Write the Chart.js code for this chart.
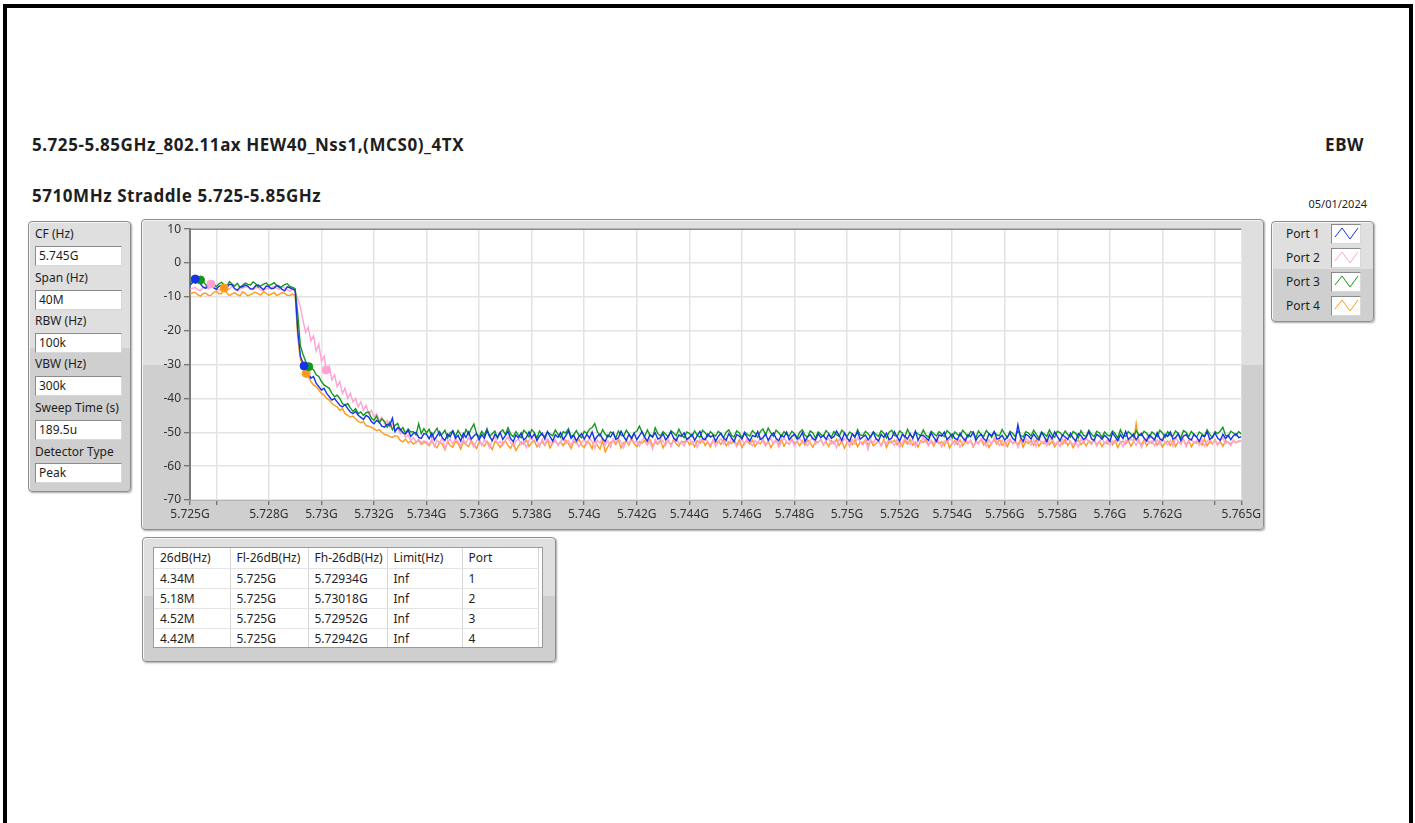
<!DOCTYPE html>
<html>
<head>
<meta charset="utf-8">
<title>EBW</title>
<script src="https://cdn.jsdelivr.net/npm/chart.js@4.4.1/dist/chart.umd.min.js"></script>
<style>
html, body { margin: 0; padding: 0; background: #fff; }
body { width: 1415px; height: 823px; position: relative; overflow: hidden; font-family: "Noto Sans", sans-serif; color: #1e1e1e; }
.frame { position: absolute; left: 3px; top: 4px; width: 1410px; height: 900px; border: 4px solid #000; border-bottom: none; box-sizing: border-box; }
.title { position: absolute; font-weight: bold; font-size: 17px; letter-spacing: 0.55px; line-height: 20px; white-space: nowrap; }
.date { position: absolute; right: 48px; top: 197px; font-size: 11px; line-height: 14px; }
.panel { position: absolute; box-sizing: border-box; border: 1px solid #8e8e8e; border-radius: 4px;
  background: linear-gradient(#dfdfdf 0%, #dfdfdf 47%, #cfcfcf 47%, #cfcfcf 100%);
  box-shadow: 1px 1px 2px rgba(0,0,0,0.35), inset 1px 1px 0 #f5f5f5; }
.plabel { position: absolute; left: 6px; font-size: 12px; line-height: 16px; white-space: nowrap; }
.pbox { position: absolute; left: 6px; width: 87px; height: 20px; box-sizing: border-box; background: #fff;
  border: 1px solid #8a8a8a; border-right-color: #d8d8d8; border-bottom-color: #d8d8d8;
  font-size: 12px; line-height: 18px; padding-left: 3px; }
.lrow { position: absolute; left: 14px; font-size: 12px; line-height: 16px; }
.licon { position: absolute; left: 59px; width: 30px; height: 20px; box-sizing: border-box; background: #fff;
  border: 1px solid #8a8a8a; border-right-color: #d8d8d8; border-bottom-color: #d8d8d8; }
.tbl { position: absolute; left: 10px; top: 9px; width: 390px; height: 101px; background: #fff; overflow: hidden;
  border: 1px solid #9a9a9a; box-sizing: border-box; }
table { border-collapse: collapse; font-size: 12px; table-layout: fixed; }
td { height: 19px; padding: 0 0 0 6px; border-right: 1px solid #d6d6d6; border-bottom: 1px solid #e4e4e4; white-space: nowrap; line-height: 18px; }
tr.head td { height: 20px; }
#chartBox { position: absolute; left: 141px; top: 219px; width: 1122px; height: 310px; }
</style>
</head>
<body>
<div class="frame"></div>
<div class="title" style="left:32px; top:135px;">5.725-5.85GHz_802.11ax HEW40_Nss1,(MCS0)_4TX</div>
<div class="title" style="right:51px; top:135px;">EBW</div>
<div class="title" style="left:32px; top:186px;">5710MHz Straddle 5.725-5.85GHz</div>
<div class="date">05/01/2024</div>

<div class="panel" id="params" style="left:28px; top:221px; width:103px; height:271px;"></div>
<div class="panel" style="left:141px; top:219px; width:1123px; height:311px;"></div>
<div id="chartBox"><canvas id="myChart" width="1122" height="310"></canvas></div>
<div class="panel" id="legend" style="left:1271px; top:221px; width:103px; height:101px;"></div>
<div class="panel" style="left:142px; top:537px; width:414px; height:125px;">
  <div class="tbl"><table id="results"></table></div>
</div>

<script>
// sweep settings shown in the left box
var paramLabels = ["CF (Hz)", "Span (Hz)", "RBW (Hz)", "VBW (Hz)", "Sweep Time (s)", "Detector Type"];
var paramValues = ["5.745G", "40M", "100k", "300k", "189.5u", "Peak"];

var portNames = ["Port 1", "Port 2", "Port 3", "Port 4"];
var portColors = ["#1434e6", "#ffa2d4", "#13991a", "#ff9a18"];

// trace points start at 5.725 GHz, one every 0.1 MHz (401 points)
var freqStart = 5.725;
var freqStep = 0.0001;

var port1Levels = [
  // in band
  -6.5,-5.8,-4.7,-5.6,-6.2,-7.1,-7.5,-6.4,-6.0,-7.3,
  -7.8,-6.9,-6.6,-7.5,-7.2,-6.3,-6.4,-7.6,-8.0,-7.1,
  -7.0,-6.5,-6.8,-7.7,-7.6,-6.7,-6.5,-7.2,-7.9,-6.8,
  -7.0,-7.6,-7.4,-6.6,-6.9,-7.8,-8.2,-7.0,-7.3,-7.7,
  -8.0,
  // roll-off
  -20.0,-27.5,-29.5,-32.0,-32.5,-34.0,-33.5,-35.5,-36.5,-37.5,
  -37.0,-38.5,-39.5,-40.5,-40.0,-41.0,-42.0,-42.5,-41.8,-43.0,
  -44.0,-44.5,-43.8,-45.0,-45.6,-46.2,-45.0,-45.5,-46.8,-47.5,
  -46.5,-47.0,-48.2,-48.5,-47.6,-48.0,-45.8,-49.8,-48.6,-49.0,
  -50.2,-50.5,-49.4,-51.2,-50.3,-50.0,-51.5,-51.8,-50.4,-50.6,
  // noise floor
  -51.9,-50.2,-52.3,-51.0,-49.8,-51.6,-52.4,-50.5,-51.3,-49.6,
  -51.8,-50.9,-52.6,-50.3,-51.5,-49.9,-52.0,-51.1,-50.4,-52.2,
  -50.7,-51.8,-49.5,-51.2,-52.5,-50.6,-51.4,-50.0,-52.1,-51.0,
  -49.7,-51.9,-52.8,-50.8,-51.6,-50.2,-52.3,-51.5,-49.9,-51.7,
  -50.5,-52.4,-51.1,-50.3,-52.0,-49.8,-51.3,-52.6,-50.7,-51.5,
  -50.1,-52.2,-51.0,-49.6,-51.8,-50.9,-52.5,-51.2,-50.4,-52.0,
  -50.6,-51.7,-49.9,-52.3,-51.1,-50.5,-51.9,-52.7,-50.8,-51.4,
  -50.0,-52.1,-51.6,-49.7,-51.2,-52.4,-50.6,-51.8,-50.3,-52.2,
  -51.0,-49.8,-51.5,-52.6,-50.7,-51.3,-50.1,-52.0,-51.6,-50.4,
  -52.3,-51.1,-49.9,-51.7,-52.5,-50.8,-51.2,-50.2,-52.1,-51.5,
  -50.6,-52.4,-51.0,-49.7,-51.8,-52.2,-50.5,-51.4,-50.9,-52.6,
  -51.2,-50.3,-51.7,-52.3,-50.4,-51.6,-52.8,-50.7,-51.1,-52.0,
  -50.3,-51.5,-52.6,-50.9,-51.3,-49.8,-52.1,-51.6,-50.5,-52.4,
  -51.0,-50.2,-51.8,-52.5,-50.8,-51.4,-49.9,-52.2,-51.2,-50.6,
  -52.0,-51.5,-50.1,-52.7,-51.3,-50.7,-51.9,-52.3,-50.4,-51.6,
  -50.9,-52.1,-50.6,-51.8,-51.3,-49.6,-51.0,-52.4,-50.2,-51.7,
  -52.6,-50.5,-51.2,-49.9,-52.0,-51.4,-50.8,-52.3,-51.1,-50.0,
  -51.9,-52.5,-50.6,-51.5,-50.3,-52.2,-51.7,-49.8,-51.3,-52.6,
  -50.7,-51.2,-52.0,-50.4,-51.8,-49.7,-52.3,-51.0,-50.9,-51.6,
  -52.4,-50.2,-51.5,-52.7,-50.8,-51.1,-49.9,-52.1,-51.4,-50.5,
  -51.8,-52.2,-50.3,-51.6,-52.5,-50.7,-51.3,-50.0,-52.4,-51.2,
  -50.6,-51.9,-52.6,-50.4,-51.0,-49.8,-52.0,-51.7,-50.9,-52.3,
  -51.4,-50.2,-51.8,-52.4,-47.8,-51.5,-52.7,-50.6,-51.1,-52.0,
  -50.5,-51.6,-52.3,-50.1,-51.3,-52.8,-50.7,-51.9,-49.9,-51.2,
  -52.5,-50.8,-51.4,-52.1,-50.3,-51.7,-52.6,-50.4,-51.0,-52.2,
  -51.5,-49.8,-51.9,-52.4,-50.6,-51.2,-52.0,-50.9,-51.6,-52.7,
  -50.2,-51.3,-52.5,-50.7,-51.8,-49.7,-52.1,-51.4,-50.5,-52.3,
  -51.0,-50.3,-51.7,-52.6,-50.8,-51.5,-52.2,-50.1,-51.9,-52.4,
  -50.6,-51.2,-49.9,-52.0,-51.6,-50.4,-52.5,-51.1,-50.7,-51.8,
  -52.3,-50.5,-51.4,-52.7,-50.9,-51.3,-49.8,-52.1,-51.5,-50.2,
  -51.7,-52.4,-50.6,-51.9,-50.8,-52.2,-51.0,-50.4,-51.6,-51.3
];

var port2Levels = [
  // in band
  -7.8,-7.5,-7.2,-7.9,-8.1,-7.3,-6.9,-7.6,-6.2,-7.0,
  -7.5,-8.0,-7.7,-7.1,-7.4,-7.7,-6.8,-7.5,-8.2,-7.8,
  -7.4,-7.1,-7.0,-7.6,-7.9,-7.3,-7.3,-8.1,-7.9,-7.6,
  -7.6,-7.2,-7.0,-7.5,-7.8,-7.0,-7.4,-7.9,-8.3,-7.6,
  -8.3,
  // roll-off
  -10.5,-13.0,-17.0,-20.5,-19.0,-23.0,-21.5,-26.0,-24.0,-29.0,
  -27.5,-31.8,-30.5,-34.5,-33.0,-36.5,-35.0,-38.5,-37.0,-40.0,
  -38.5,-41.0,-40.0,-42.5,-41.0,-43.5,-42.0,-44.5,-43.5,-45.5,
  -44.5,-46.5,-45.5,-47.5,-46.5,-48.5,-47.5,-49.5,-48.8,-50.5,
  -49.5,-51.5,-50.8,-52.4,-51.6,-52.9,-52.0,-53.1,-52.5,-52.8,
  // noise floor
  -53.6,-51.9,-54.2,-52.4,-53.1,-51.6,-54.8,-52.9,-52.0,-53.5,
  -51.8,-52.7,-54.0,-52.2,-53.3,-51.5,-52.9,-54.4,-52.6,-51.7,
  -53.8,-52.3,-53.0,-54.6,-52.1,-51.4,-53.4,-52.7,-53.9,-52.4,
  -51.3,-53.2,-54.1,-52.6,-51.9,-53.6,-52.8,-54.5,-52.3,-51.6,
  -53.1,-52.5,-54.3,-52.0,-53.7,-51.8,-52.9,-53.4,-52.2,-54.0,
  -52.7,-51.5,-53.3,-52.4,-53.9,-51.9,-52.6,-54.2,-53.0,-52.1,
  -53.5,-51.7,-52.8,-54.7,-52.3,-53.2,-51.6,-53.8,-52.5,-54.4,
  -52.0,-53.1,-51.8,-52.9,-54.6,-52.2,-53.4,-51.5,-53.0,-52.6,
  -54.1,-52.3,-51.4,-53.6,-52.8,-55.0,-52.1,-53.3,-51.9,-52.7,
  -53.9,-52.0,-54.3,-52.5,-51.7,-53.2,-52.9,-54.0,-52.4,-51.8,
  -53.4,-52.6,-54.5,-52.1,-53.0,-51.6,-52.8,-53.7,-52.3,-54.2,
  -52.7,-51.9,-53.5,-52.2,-53.8,-51.7,-52.5,-54.3,-53.1,-52.0,
  -53.6,-51.8,-52.9,-54.0,-52.4,-53.3,-51.5,-52.8,-54.1,-52.6,
  -51.9,-53.4,-52.2,-54.4,-53.0,-51.7,-52.8,-53.6,-52.1,-54.2,
  -52.5,-51.8,-53.3,-52.7,-54.0,-52.3,-51.6,-53.5,-52.9,-52.2,
  -53.8,-52.4,-51.9,-53.4,-52.7,-54.6,-52.0,-53.1,-51.8,-52.6,
  -54.3,-52.2,-53.5,-51.6,-52.9,-53.8,-52.4,-55.1,-52.1,-53.2,
  -51.7,-52.8,-54.1,-52.5,-53.3,-51.9,-52.6,-53.9,-52.2,-54.5,
  -53.0,-51.8,-52.7,-53.6,-52.0,-54.2,-52.4,-53.1,-51.5,-52.9,
  -54.0,-52.3,-53.4,-51.7,-52.8,-54.3,-52.6,-53.2,-51.9,-52.5,
  -53.7,-52.1,-54.4,-52.8,-51.6,-53.3,-52.4,-54.0,-52.7,-53.5,
  -51.8,-52.9,-54.2,-52.2,-53.6,-51.5,-52.7,-53.9,-52.3,-54.1,
  -52.6,-51.9,-53.4,-52.0,-54.5,-52.8,-53.1,-51.7,-52.5,-53.8,
  -52.2,-54.3,-51.8,-53.0,-52.6,-54.0,-52.4,-51.6,-53.5,-52.9,
  -54.2,-52.1,-53.3,-51.9,-52.8,-53.7,-52.5,-54.4,-52.0,-53.2,
  -51.7,-52.9,-53.6,-52.3,-54.1,-52.7,-51.8,-53.4,-52.2,-54.0,
  -52.6,-53.1,-51.5,-52.8,-54.3,-52.4,-53.0,-51.9,-52.7,-53.9,
  -52.1,-54.5,-52.8,-51.7,-53.3,-52.5,-54.0,-52.2,-53.6,-51.8,
  -52.9,-53.7,-52.3,-54.2,-51.6,-52.8,-53.5,-52.0,-54.3,-52.6,
  -51.9,-53.2,-52.5,-53.8,-52.1,-54.1,-52.7,-51.8,-53.4,-52.4,
  -53.9,-52.2,-51.7,-53.3,-52.8,-54.0,-52.3,-53.1,-52.5,-52.7
];

var port3Levels = [
  // in band
  -5.8,-5.3,-6.0,-5.6,-5.0,-5.5,-6.4,-6.8,-5.8,-6.2,
  -7.0,-6.1,-5.7,-6.5,-6.9,-5.5,-6.2,-6.8,-6.0,-7.2,
  -6.6,-5.9,-6.3,-6.5,-5.6,-6.1,-7.1,-6.7,-6.2,-5.9,
  -6.7,-6.3,-5.8,-6.6,-7.3,-6.9,-6.4,-6.1,-6.9,-7.2,
  -7.6,
  // roll-off
  -15.0,-24.5,-27.0,-29.0,-30.5,-31.0,-31.5,-33.0,-33.5,-35.0,
  -36.0,-36.5,-37.0,-38.5,-39.5,-39.0,-40.0,-41.5,-42.0,-41.5,
  -42.8,-43.8,-43.0,-44.5,-44.0,-45.0,-44.2,-44.0,-45.8,-46.5,
  -45.2,-47.2,-46.0,-46.8,-48.5,-47.0,-49.2,-48.0,-47.4,-49.5,
  -48.6,-50.3,-49.0,-49.9,-49.8,-50.8,-47.5,-50.4,-48.9,-50.2,
  // noise floor
  -49.1,-51.3,-50.0,-48.8,-51.0,-50.5,-49.4,-51.7,-50.1,-49.6,
  -51.2,-49.5,-50.8,-51.6,-49.2,-50.6,-49.0,-47.6,-50.3,-51.5,
  -49.7,-50.9,-48.9,-51.2,-50.4,-49.6,-51.8,-50.0,-49.3,-50.7,
  -48.6,-50.5,-51.3,-49.8,-50.9,-51.6,-49.4,-50.2,-51.4,-49.2,
  -50.1,-51.7,-49.6,-50.8,-51.2,-49.9,-50.5,-51.0,-49.3,-50.6,
  -51.5,-49.8,-50.2,-48.9,-51.3,-50.7,-49.5,-50.9,-51.6,-49.7,
  -50.4,-49.1,-48.6,-47.4,-49.8,-51.1,-49.2,-50.6,-51.4,-49.9,
  -50.3,-51.7,-49.6,-50.8,-51.2,-49.4,-50.5,-51.8,-50.1,-49.7,
  -48.2,-50.0,-51.3,-49.3,-50.9,-51.5,-48.7,-50.4,-51.1,-49.8,
  -50.6,-51.4,-49.5,-50.2,-51.0,-49.1,-50.7,-51.6,-49.9,-50.3,
  -51.2,-49.6,-50.8,-51.5,-49.4,-50.1,-51.3,-49.8,-50.6,-51.1,
  -49.7,-50.4,-51.6,-50.0,-49.3,-50.9,-51.4,-49.6,-50.2,-51.7,
  -49.9,-50.6,-51.1,-49.5,-50.3,-51.5,-49.8,-49.0,-50.7,-48.8,
  -50.2,-51.2,-49.4,-50.1,-51.3,-49.8,-50.6,-51.1,-49.7,-50.4,
  -51.6,-50.0,-49.3,-50.9,-51.4,-49.6,-50.2,-51.7,-49.9,-50.6,
  -51.1,-49.5,-50.3,-51.5,-49.8,-50.7,-51.2,-49.4,-50.1,-51.3,
  -49.9,-50.5,-51.6,-49.2,-50.8,-51.0,-49.7,-50.4,-51.5,-49.8,
  -50.6,-51.2,-49.5,-50.3,-51.7,-50.0,-49.4,-50.9,-51.3,-49.6,
  -50.2,-51.4,-49.1,-50.7,-51.6,-49.9,-50.5,-51.0,-49.3,-50.8,
  -51.5,-49.7,-50.4,-51.1,-49.8,-50.6,-51.3,-49.5,-50.2,-51.7,
  -49.9,-50.6,-51.1,-49.4,-50.3,-51.4,-49.8,-50.0,-51.6,-49.6,
  -50.7,-51.2,-49.5,-50.4,-51.5,-49.9,-50.8,-51.0,-49.2,-50.5,
  -51.6,-49.7,-50.3,-51.3,-49.6,-50.9,-51.4,-49.8,-50.2,-51.1,
  -49.4,-50.6,-51.7,-49.9,-50.5,-51.2,-49.3,-50.8,-51.5,-49.7,
  -50.1,-51.0,-49.6,-50.7,-51.4,-49.8,-50.3,-51.6,-49.5,-50.9,
  -51.2,-49.4,-50.6,-51.3,-49.7,-50.2,-51.5,-49.9,-50.8,-51.1,
  -49.6,-50.4,-51.7,-49.3,-50.9,-51.2,-49.8,-50.5,-51.4,-49.5,
  -50.7,-51.0,-49.7,-50.3,-51.6,-49.9,-50.6,-51.3,-49.4,-50.2,
  -51.5,-49.8,-50.9,-51.1,-49.6,-50.4,-51.7,-49.5,-50.0,-51.3,
  -49.7,-50.8,-51.4,-49.9,-50.5,-51.2,-49.3,-50.6,-51.6,-49.8,
  -50.4,-49.6,-48.5,-50.9,-51.3,-49.7,-50.2,-51.0,-49.8,-50.5
];

var port4Levels = [
  // in band
  -9.2,-8.8,-8.6,-9.4,-9.8,-9.0,-8.9,-9.6,-9.5,-8.7,
  -8.3,-9.1,-9.0,-7.4,-8.8,-9.6,-9.1,-8.8,-9.3,-9.7,
  -8.5,-9.0,-9.7,-9.3,-8.9,-8.6,-9.1,-9.4,-8.4,-9.0,
  -9.5,-9.2,-8.7,-9.6,-9.2,-8.8,-8.9,-9.5,-9.6,-9.1,
  -9.6,
  // roll-off
  -22.0,-28.5,-30.5,-32.8,-33.5,-35.0,-36.0,-36.5,-37.5,-38.5,
  -39.0,-40.0,-40.5,-41.5,-42.0,-42.5,-43.5,-43.0,-44.5,-45.0,
  -45.5,-45.2,-46.0,-46.8,-47.2,-46.8,-48.0,-48.2,-48.5,-49.0,
  -49.5,-49.2,-50.0,-50.6,-50.8,-51.3,-51.5,-51.0,-51.2,-52.4,
  -52.8,-52.0,-53.1,-52.6,-53.5,-53.0,-52.4,-53.6,-52.9,-53.2,
  // noise floor
  -54.0,-52.5,-53.8,-54.6,-52.9,-53.5,-55.2,-52.7,-53.9,-54.4,
  -52.6,-53.3,-55.0,-52.8,-53.7,-54.2,-52.4,-53.6,-54.8,-52.9,
  -53.4,-54.1,-52.6,-53.8,-55.1,-52.7,-53.2,-54.5,-53.0,-52.5,
  -53.9,-54.7,-53.1,-55.4,-54.0,-52.8,-53.5,-52.3,-54.2,-53.0,
  -52.4,-54.3,-53.6,-52.7,-53.9,-52.2,-54.6,-53.1,-52.5,-53.7,
  -52.8,-54.0,-52.3,-53.4,-54.8,-52.6,-53.2,-52.0,-53.8,-54.5,
  -52.7,-53.3,-54.9,-52.1,-53.9,-55.0,-52.5,-55.8,-54.2,-53.0,
  -52.4,-53.6,-52.2,-54.7,-53.1,-52.6,-53.8,-52.0,-53.4,-54.3,
  -52.7,-53.2,-52.4,-53.7,-52.1,-54.0,-52.9,-53.5,-52.3,-54.6,
  -53.0,-52.5,-53.8,-52.2,-53.4,-54.1,-52.6,-53.0,-52.1,-53.7,
  -52.8,-54.3,-52.5,-53.2,-52.0,-53.9,-52.7,-54.4,-52.3,-53.1,
  -52.6,-53.6,-52.1,-54.0,-52.8,-53.3,-52.4,-53.8,-52.2,-54.5,
  -53.0,-52.6,-53.5,-52.3,-54.2,-52.9,-53.4,-52.1,-53.7,-52.6,
  -54.6,-53.1,-52.4,-53.6,-52.2,-54.1,-52.8,-53.5,-52.0,-53.3,
  -52.7,-54.0,-52.5,-53.8,-52.3,-53.2,-54.4,-52.6,-53.0,-52.1,
  -53.7,-52.8,-54.2,-52.4,-53.4,-52.0,-53.9,-52.6,-54.7,-53.1,
  -52.5,-53.6,-52.2,-54.3,-52.9,-53.2,-52.1,-53.8,-52.4,-54.0,
  -53.3,-52.6,-53.9,-52.0,-54.5,-52.7,-53.1,-52.3,-53.6,-52.8,
  -54.2,-52.4,-53.5,-52.1,-53.8,-52.9,-54.4,-52.5,-53.0,-52.2,
  -53.7,-52.6,-54.1,-52.3,-53.4,-52.8,-53.9,-52.0,-54.6,-53.2,
  -52.5,-53.6,-52.2,-54.0,-52.7,-53.3,-52.4,-54.3,-52.9,-53.1,
  -52.1,-53.8,-52.6,-54.5,-53.0,-52.3,-53.5,-52.0,-53.9,-52.7,
  -54.2,-52.4,-53.2,-52.8,-53.6,-52.1,-54.4,-52.6,-53.3,-52.5,
  -53.8,-52.2,-54.1,-52.9,-53.4,-52.0,-53.7,-52.6,-54.3,-53.0,
  -52.4,-53.5,-52.1,-53.9,-52.7,-54.6,-53.1,-52.3,-53.6,-52.8,
  -54.0,-52.5,-53.3,-52.2,-53.8,-52.6,-54.2,-52.9,-53.4,-52.1,
  -53.7,-52.4,-54.5,-53.0,-52.6,-53.5,-52.3,-54.1,-52.8,-47.4,
  -52.9,-53.6,-52.2,-54.0,-52.7,-53.3,-52.0,-53.8,-52.5,-54.4,
  -53.1,-52.6,-53.9,-52.3,-54.2,-52.8,-53.4,-52.1,-53.7,-52.5,
  -54.3,-52.9,-53.2,-52.4,-53.8,-52.0,-54.0,-52.7,-53.5,-52.2,
  -53.6,-52.8,-54.1,-52.5,-53.0,-53.4,-52.6,-53.1,-52.7,-52.6
];

// markers: peak and -26 dB point of each port
var peakFreqs = [5.7252, 5.7258, 5.7254, 5.7263];
var peakLevels = [-4.7, -6.2, -5.0, -7.4];
var edgeFreqs = [5.72934, 5.73018, 5.72952, 5.72942];
var edgeLevels = [-30.4, -31.6, -30.6, -32.6];

var xTickValues = [5.725, 5.726, 5.728, 5.730, 5.732, 5.734, 5.736, 5.738, 5.740, 5.742, 5.744,
  5.746, 5.748, 5.750, 5.752, 5.754, 5.756, 5.758, 5.760, 5.762, 5.764, 5.765];
var xTickLabels = ["5.725G", "", "5.728G", "5.73G", "5.732G", "5.734G", "5.736G", "5.738G", "5.74G", "5.742G", "5.744G",
  "5.746G", "5.748G", "5.75G", "5.752G", "5.754G", "5.756G", "5.758G", "5.76G", "5.762G", "", "5.765G"];

// results table
var tableHeader = ["26dB(Hz)", "Fl-26dB(Hz)", "Fh-26dB(Hz)", "Limit(Hz)", "Port"];
var bw26 = ["4.34M", "5.18M", "4.52M", "4.42M"];
var flValues = ["5.725G", "5.725G", "5.725G", "5.725G"];
var fhValues = ["5.72934G", "5.73018G", "5.72952G", "5.72942G"];
var limitValues = ["Inf", "Inf", "Inf", "Inf"];
var portNumbers = ["1", "2", "3", "4"];

buildParams();
buildLegend();
buildTable();
buildChart();

function buildParams(){
    var box = document.getElementById("params");
    var labelTops = [4, 48, 91, 134, 178, 222];
    var boxTops = [24, 68, 111, 154, 198, 241];
    for (var i = 0; i < paramLabels.length; i++) {
        var l = document.createElement("div");
        l.className = "plabel";
        l.style.top = labelTops[i] + "px";
        l.textContent = paramLabels[i];
        box.appendChild(l);
        var v = document.createElement("div");
        v.className = "pbox";
        v.style.top = boxTops[i] + "px";
        v.textContent = paramValues[i];
        box.appendChild(v);
    }
}

function buildLegend(){
    var box = document.getElementById("legend");
    for (var i = 0; i < portNames.length; i++) {
        var t = document.createElement("div");
        t.className = "lrow";
        t.style.top = (4 + i * 24) + "px";
        t.textContent = portNames[i];
        box.appendChild(t);
        var ic = document.createElement("div");
        ic.className = "licon";
        ic.style.top = (2 + i * 24) + "px";
        ic.innerHTML = '<svg width="28" height="18"><polyline points="3,12 10,3 18,14 26,3" fill="none" stroke="' +
            portColors[i] + '" stroke-width="1"/></svg>';
        box.appendChild(ic);
    }
}

function buildTable(){
    var t = document.getElementById("results");
    var widths = [76, 78, 79, 75, 76];
    var cols = [bw26, flValues, fhValues, limitValues, portNumbers];
    var html = '<colgroup>';
    widths.forEach(function(w){ html += '<col style="width:' + w + 'px">'; });
    html += '</colgroup><tr class="head">';
    tableHeader.forEach(function(h){ html += '<td>' + h + '</td>'; });
    html += '</tr>';
    for (var r = 0; r < bw26.length; r++) {
        html += '<tr>';
        for (var c = 0; c < cols.length; c++) html += '<td>' + cols[c][r] + '</td>';
        html += '</tr>';
    }
    html += '<tr><td></td><td></td><td></td><td></td><td></td></tr>';
    t.innerHTML = html;
}

function toPoints(levels){
    return levels.map(function(v, i){ return { x: freqStart + i * freqStep, y: v }; });
}

function buildChart(){
    Chart.defaults.font.family = "Noto Sans";
    Chart.defaults.font.size = 12;
    Chart.defaults.color = "#333";

    var allLevels = [port1Levels, port2Levels, port3Levels, port4Levels];
    var drawOrder = [1, 3, 2, 4];
    var datasets = [];
    // markers first so they sit on top
    for (var i = 0; i < 4; i++) {
        datasets.push({
            label: portNames[i] + " markers",
            data: [{ x: peakFreqs[i], y: peakLevels[i] }, { x: edgeFreqs[i], y: edgeLevels[i] }],
            showLine: false,
            pointRadius: 4,
            pointBackgroundColor: portColors[i],
            pointBorderColor: portColors[i],
            order: 0
        });
    }
    for (var j = 0; j < 4; j++) {
        datasets.push({
            label: portNames[j],
            data: toPoints(allLevels[j]),
            borderColor: portColors[j],
            borderWidth: 1.4,
            pointRadius: 0,
            tension: 0,
            fill: false,
            order: drawOrder[j]
        });
    }

    var plotBg = {
        id: "plotBg",
        beforeDraw: function(chart){
            var a = chart.chartArea, ctx = chart.ctx;
            ctx.save();
            ctx.fillStyle = "#fff";
            ctx.fillRect(a.left, a.top, a.right - a.left, a.bottom - a.top);
            ctx.restore();
        },
        afterDraw: function(chart){
            var a = chart.chartArea, ctx = chart.ctx;
            ctx.save();
            ctx.strokeStyle = "#8a8a8a";
            ctx.lineWidth = 1.5;
            ctx.beginPath();
            ctx.moveTo(a.left, a.top);
            ctx.lineTo(a.right, a.top);
            ctx.stroke();
            ctx.restore();
        }
    };

    new Chart("myChart", {
        type: "line",
        data: { datasets: datasets },
        plugins: [plotBg],
        options: {
            responsive: false,
            animation: false,
            layout: { padding: { left: 0, top: 9, right: 21, bottom: 0 } },
            plugins: { legend: { display: false }, tooltip: { enabled: false } },
            scales: {
                x: {
                    type: "linear",
                    min: 5.725,
                    max: 5.765,
                    afterBuildTicks: function(scale){
                        scale.ticks = xTickValues.map(function(v){ return { value: v }; });
                    },
                    afterFit: function(scale){ scale.height = 29; },
                    ticks: {
                        autoSkip: false,
                        maxRotation: 0,
                        padding: 2,
                        color: "#333",
                        callback: function(v, i){ return xTickLabels[i]; }
                    },
                    grid: {
                        color: function(ctx){
                            if (!ctx.tick) return "#e3e3e3";
                            var v = ctx.tick.value;
                            return (v === 5.725 || v === 5.765) ? "rgba(0,0,0,0)" : "#e3e3e3";
                        },
                        lineWidth: 1.5,
                        tickLength: 5,
                        tickColor: "#555",
                        tickWidth: 1
                    },
                    border: { display: true, color: "#b4b4b4", width: 1 }
                },
                y: {
                    min: -70,
                    max: 10,
                    afterFit: function(scale){ scale.width = 49; },
                    ticks: { stepSize: 10, padding: 3, color: "#333" },
                    grid: { color: "#e3e3e3", lineWidth: 1.5, tickLength: 6, tickColor: "#555", tickWidth: 1 },
                    border: { display: true, color: "#7a7a7a", width: 2 }
                }
            }
        }
    });
}
</script>
</body>
</html>
